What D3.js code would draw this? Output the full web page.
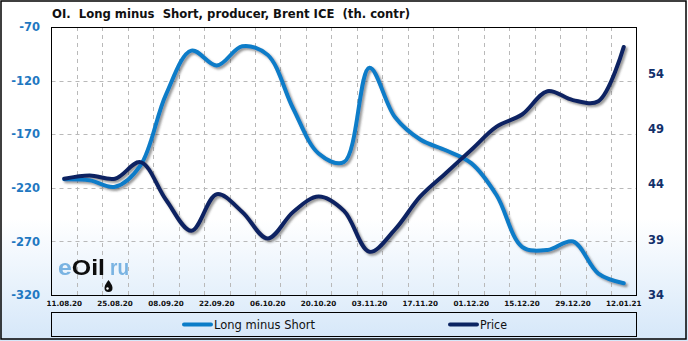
<!DOCTYPE html>
<html>
<head>
<meta charset="utf-8">
<script src="https://cdn.jsdelivr.net/npm/d3@7"></script>
<style>
  html, body { margin: 0; padding: 0; background: #fff; }
  svg { display: block; }
  text { white-space: pre; }
</style>
</head>
<body>
<svg id="chart" width="688" height="341"></svg>
<script>
'use strict';

// weekly report dates
const dates = ['11.08.20','18.08.20','25.08.20','01.09.20','08.09.20','15.09.20','22.09.20','29.09.20',
  '06.10.20','13.10.20','20.10.20','27.10.20','03.11.20','10.11.20','17.11.20','24.11.20',
  '01.12.20','08.12.20','15.12.20','22.12.20','29.12.20','05.01.21','12.01.21'];

// Long minus Short, th. contracts (left axis)
const longMinusShort = [-212, -213, -219, -199, -133, -92, -106, -88, -96, -146, -188, -196,
  -108, -154, -175, -185, -197, -227, -275, -278, -270, -300, -309];

// Brent price (right axis)
const price = [44.5, 44.8, 44.5, 46.0, 42.6, 39.8, 43.1, 41.5, 39.1, 41.5, 42.9, 41.6,
  37.9, 39.9, 42.9, 45.0, 47.1, 49.2, 50.3, 52.4, 51.6, 51.5, 56.4];

const leftTicks = [-320, -270, -220, -170, -120, -70];
const rightTicks = [34, 39, 44, 49, 54];

const title = 'OI.  Long minus  Short, producer, Brent ICE  (th. contr)';
const seriesNames = ['Long minus Short', 'Price'];
const colors = ['#0a7cc8', '#0b2462'];

const W = 688, H = 341;
const plot = { left: 51.5, right: 636.5, top: 27, bottom: 295 };

const svg = d3.select('#chart');
const defs = svg.append('defs');

const grad = defs.append('linearGradient').attr('id', 'bg').attr('x1', 0).attr('y1', 0).attr('x2', 0).attr('y2', 1);
grad.append('stop').attr('offset', '0%').attr('stop-color', '#ffffff');
grad.append('stop').attr('offset', '64%').attr('stop-color', '#ffffff');
grad.append('stop').attr('offset', '100%').attr('stop-color', '#d5e7f9');

const shadow = defs.append('filter').attr('id', 'shadow')
  .attr('x', '-5%').attr('y', '-10%').attr('width', '110%').attr('height', '130%');
shadow.append('feDropShadow').attr('dx', 2).attr('dy', 2).attr('stdDeviation', 1.3)
  .attr('flood-color', '#444').attr('flood-opacity', 0.55);

const soft = defs.append('filter').attr('id', 'soft');
soft.append('feGaussianBlur').attr('stdDeviation', 0.5);

// background + frame
svg.append('rect').attr('x', 0).attr('y', 0).attr('width', W).attr('height', H).attr('fill', 'url(#bg)');
svg.append('rect').attr('x', 1).attr('y', 1).attr('width', W - 3).attr('height', H - 3)
  .attr('fill', 'none').attr('stroke', '#000').attr('stroke-width', 1.5);

// scales
const x = d3.scalePoint().domain(dates).range([plot.left, plot.right]).padding(0.5);
const yL = d3.scaleLinear().domain([-320, -70]).range([plot.bottom, plot.top]);
const yR = d3.scaleLinear().domain([34, 58.2]).range([plot.bottom, plot.top]);

// grid
const grid = svg.append('g').attr('stroke', '#b9b9b9').attr('stroke-dasharray', '4,4').attr('stroke-width', 1);
grid.selectAll('.hg').data(leftTicks.slice(1, -1)).join('line')
  .attr('x1', plot.left).attr('x2', plot.right)
  .attr('y1', d => Math.round(yL(d)) + 0.5).attr('y2', d => Math.round(yL(d)) + 0.5);
grid.selectAll('.vg').data(dates.slice(1)).join('line')
  .attr('x1', d => Math.round(x(d) - x.step() / 2) + 0.5)
  .attr('x2', d => Math.round(x(d) - x.step() / 2) + 0.5)
  .attr('y1', plot.top).attr('y2', plot.bottom);

// plot border
svg.append('rect').attr('x', plot.left).attr('y', plot.top + 0.5)
  .attr('width', plot.right - plot.left).attr('height', plot.bottom - plot.top)
  .attr('fill', 'none').attr('stroke', '#000').attr('stroke-width', 1);

// watermark
const wm = svg.append('g').attr('filter', 'url(#soft)')
  .attr('font-family', 'Liberation Sans, Arial, sans-serif').attr('font-size', 22).attr('font-weight', 'bold');
const wmText = wm.append('text').attr('x', 58).attr('y', 275)
  .attr('textLength', 47).attr('lengthAdjust', 'spacingAndGlyphs');
wmText.append('tspan').attr('fill', '#79b3e2').text('e');
wmText.append('tspan').attr('fill', '#111').text('Oil');
wm.append('text').attr('x', 110).attr('y', 275).attr('fill', '#79b3e2')
  .attr('textLength', 19).attr('lengthAdjust', 'spacingAndGlyphs').text('ru');
wm.append('path').attr('d', 'M108.5,280 q-4,5 -4,8 a4,4 0 0 0 8,0 q0,-3 -4,-8z').attr('fill', '#111');
wm.append('circle').attr('cx', 107.5).attr('cy', 288.5).attr('r', 1.2).attr('fill', '#fff');

// axis labels
svg.append('g').selectAll('text').data(leftTicks).join('text')
  .attr('x', 40).attr('y', d => yL(d)).attr('dy', '0.36em')
  .attr('text-anchor', 'end').attr('fill', '#1f78c1')
  .attr('font-family', 'DejaVu Sans, Verdana, sans-serif').attr('font-size', 11.5).attr('font-weight', 'bold')
  .text(d => d);

svg.append('g').selectAll('text').data(rightTicks).join('text')
  .attr('x', 648).attr('y', d => yR(d)).attr('dy', '0.36em')
  .attr('fill', '#13306b')
  .attr('font-family', 'DejaVu Sans, Verdana, sans-serif').attr('font-size', 11.5).attr('font-weight', 'bold')
  .text(d => d);

svg.append('g').selectAll('text').data(dates.filter((d, i) => i % 2 === 0)).join('text')
  .attr('x', d => x(d)).attr('y', 306)
  .attr('text-anchor', 'middle').attr('fill', '#111')
  .attr('font-family', 'DejaVu Sans, Verdana, sans-serif').attr('font-size', 7.2).attr('font-weight', 'bold')
  .text(d => d);

// title
svg.append('text').attr('x', 52).attr('y', 18)
  .attr('font-family', 'DejaVu Sans, Verdana, sans-serif').attr('font-size', 12).attr('font-weight', 'bold')
  .attr('fill', '#111').attr('textLength', 358).attr('lengthAdjust', 'spacingAndGlyphs')
  .text(title);

// lines
const lineL = d3.line().x((d, i) => x(dates[i])).y(d => yL(d)).curve(d3.curveCatmullRom.alpha(0.5));
const lineR = d3.line().x((d, i) => x(dates[i])).y(d => yR(d)).curve(d3.curveCatmullRom.alpha(0.5));

const lines = svg.append('g').attr('filter', 'url(#shadow)').attr('fill', 'none')
  .attr('stroke-width', 4).attr('stroke-linecap', 'round').attr('stroke-linejoin', 'round');
lines.append('path').attr('d', lineL(longMinusShort)).attr('stroke', colors[0]);
lines.append('path').attr('d', lineR(price)).attr('stroke', colors[1]);

// legend
svg.append('rect').attr('x', 51.5).attr('y', 312.5).attr('width', 585).attr('height', 24)
  .attr('fill', 'none').attr('stroke', '#000').attr('stroke-width', 1);
const legendItems = [
  { name: seriesNames[0], color: colors[0], x: 184, w: 101 },
  { name: seriesNames[1], color: colors[1], x: 450, w: 27 }
];
const lg = svg.append('g').selectAll('g').data(legendItems).join('g');
lg.append('line').attr('x1', d => d.x).attr('x2', d => d.x + 27).attr('y1', 324.5).attr('y2', 324.5)
  .attr('stroke', d => d.color).attr('stroke-width', 4).attr('stroke-linecap', 'round');
lg.append('text').attr('x', d => d.x + 30).attr('y', 329)
  .attr('font-family', 'DejaVu Sans, Verdana, sans-serif').attr('font-size', 12.5).attr('fill', '#111')
  .attr('textLength', d => d.w).attr('lengthAdjust', 'spacingAndGlyphs')
  .text(d => d.name);
</script>
</body>
</html>
